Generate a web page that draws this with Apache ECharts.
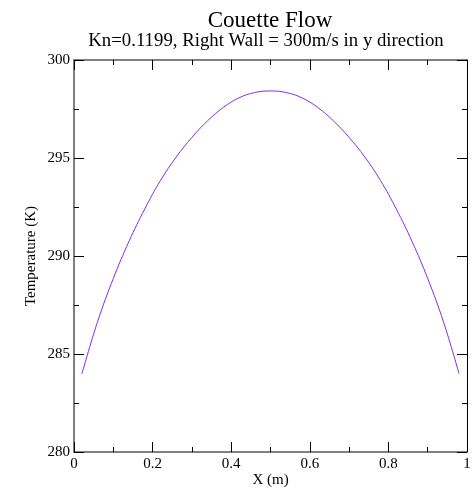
<!DOCTYPE html>
<html>
<head>
<meta charset="utf-8">
<script src="https://cdn.jsdelivr.net/npm/echarts@6/dist/echarts.min.js"></script>
<style>
html,body{margin:0;padding:0;background:#fff;}
#chart{width:474px;height:488px;}
</style>
</head>
<body>
<div id="chart"></div>
<script>
// Data
const xValues = [0.02,0.06,0.10,0.14,0.18,0.22,0.26,0.30,0.34,0.38,0.42,0.46,0.50,
                 0.54,0.58,0.62,0.66,0.70,0.74,0.78,0.82,0.86,0.90,0.94,0.98];
const temperature = [283.98,286.65,288.85,290.75,292.4,293.85,295.05,296.05,296.9,297.58,298.07,298.34,298.42,
                     298.34,298.07,297.58,296.9,296.05,295.05,293.85,292.4,290.75,288.85,286.65,283.98];
const titleText = 'Couette Flow';
const subtitleText = 'Kn=0.1199, Right Wall = 300m/s in y direction';
const xName = 'X (m)';
const yName = 'Temperature (K)';

const font = 'Liberation Serif';
const chart = echarts.init(document.getElementById('chart'), null, {renderer: 'canvas'});
const pts = xValues.map((x, i) => [x, temperature[i]]);

const axisCommonHidden = {
  axisLabel: {show: false},
  splitLine: {show: false}
};

chart.setOption({
  animation: false,
  backgroundColor: '#fff',
  title: [
    {text: titleText, left: 265, top: 4, textAlign: 'center',
     textStyle: {fontFamily: font, fontSize: 23, fontWeight: 'normal', color: '#000'}},
    {text: subtitleText, left: 261, top: 27, textAlign: 'center',
     textStyle: {fontFamily: font, fontSize: 18.8, fontWeight: 'normal', color: '#000'}}
  ],
  grid: {left: 74, right: 7, top: 60, bottom: 36, containLabel: false, outerBoundsMode: 'none'},
  xAxis: [
    {type: 'value', position: 'bottom', min: 0, max: 1, interval: 0.2,
     name: xName, nameLocation: 'middle', nameGap: 21, nameMoveOverlap: false,
     nameTextStyle: {fontFamily: font, fontSize: 15, color: '#000'},
     axisLine: {show: true, onZero: false, lineStyle: {color: '#808080', width: 2}},
     axisTick: {show: true, inside: true, length: 10, lineStyle: {color: '#000'}},
     minorTick: {show: true, splitNumber: 2, length: 5, lineStyle: {color: '#000'}},
     axisLabel: {fontFamily: font, fontSize: 15, color: '#000', margin: 5,
                 formatter: v => String(+v.toFixed(1))},
     splitLine: {show: false}},
    Object.assign({type: 'value', position: 'top', min: 0, max: 1, interval: 0.2,
     axisLine: {show: true, onZero: false, lineStyle: {color: '#808080', width: 2}},
     axisTick: {show: true, inside: true, length: 10, lineStyle: {color: '#000'}},
     minorTick: {show: true, splitNumber: 2, length: 5, lineStyle: {color: '#000'}}}, axisCommonHidden)
  ],
  yAxis: [
    {type: 'value', position: 'left', min: 280, max: 300, interval: 5,
     name: yName, nameLocation: 'middle', nameGap: 35, nameMoveOverlap: false,
     nameTextStyle: {fontFamily: font, fontSize: 15, color: '#000'},
     axisLine: {show: true, onZero: false, lineStyle: {color: '#808080', width: 2}},
     axisTick: {show: true, inside: true, length: 10, lineStyle: {color: '#000'}},
     minorTick: {show: true, splitNumber: 2, length: 5, lineStyle: {color: '#000'}},
     axisLabel: {fontFamily: font, fontSize: 15, color: '#000', margin: 4},
     splitLine: {show: false}},
    Object.assign({type: 'value', position: 'right', min: 280, max: 300, interval: 5,
     axisLine: {show: true, onZero: false, lineStyle: {color: '#000', width: 1}},
     axisTick: {show: true, inside: true, length: 10, lineStyle: {color: '#000'}},
     minorTick: {show: true, splitNumber: 2, length: 5, lineStyle: {color: '#000'}}}, axisCommonHidden)
  ],
  series: [{
    type: 'line', xAxisIndex: 0, yAxisIndex: 0,
    data: pts, smooth: 0.4, showSymbol: false,
    lineStyle: {color: '#8a2be2', width: 1}
  }]
});
</script>
</body>
</html>
